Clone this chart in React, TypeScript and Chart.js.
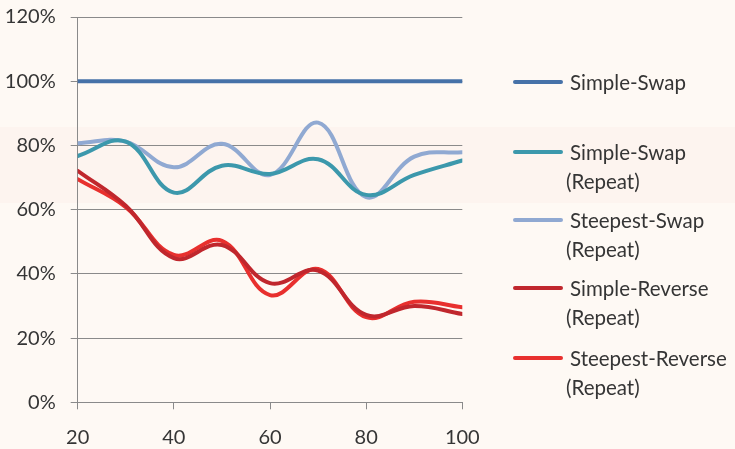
import React, { useEffect, useRef } from "react";
import { Chart, registerables } from "chart.js";

Chart.register(...registerables);

// ---- data ----
const xValues = [20, 30, 40, 50, 60, 70, 80, 90, 100];
const simpleSwap = [100, 100, 100, 100, 100, 100, 100, 100, 100];
const simpleSwapRepeat = [76.7, 81.2, 65.3, 73.7, 71.1, 75.7, 64.6, 70.8, 75.3];
const steepestSwapRepeat = [80.7, 81.2, 73.2, 80.5, 70.8, 87.1, 63.9, 76.5, 77.9];
const simpleReverseRepeat = [72.1, 61.2, 44.9, 49.0, 37.1, 41.0, 27.2, 30.0, 27.5];
const steepestReverseRepeat = [69.5, 60.8, 45.9, 50.3, 33.4, 41.5, 26.5, 31.3, 29.6];

const seriesLabels = [
  ["Simple-Swap"],
  ["Simple-Swap", "(Repeat)"],
  ["Steepest-Swap", "(Repeat)"],
  ["Simple-Reverse", "(Repeat)"],
  ["Steepest-Reverse", "(Repeat)"],
];
const seriesValues = [simpleSwap, simpleSwapRepeat, steepestSwapRepeat, simpleReverseRepeat, steepestReverseRepeat];
const seriesColors = ["#4672A8", "#3C98AC", "#90A9D2", "#C0272D", "#E8302E"];
const xTicks = [20, 40, 60, 80, 100];
const yTicks = [0, 20, 40, 60, 80, 100, 120];

// legend row centres (px from top)
const legendRowCenters = [82, 152, 220, 288, 358];

const FONT = "Lato, 'Open Sans', sans-serif";
const TEXT = "#353535";

export default function App() {
  const ref = useRef<HTMLCanvasElement | null>(null);

  useEffect(() => {
    document.body.style.margin = "0";
    const ctx = ref.current!;
    const chart = new Chart(ctx, {
      type: "line",
      data: {
        datasets: seriesValues.map((vals, i) => ({
          label: seriesLabels[i].join(" "),
          data: vals.map((v, j) => ({ x: xValues[j], y: v })),
          borderColor: seriesColors[i],
          backgroundColor: seriesColors[i],
          borderWidth: 4,
          pointRadius: 0,
          tension: 0.4,
          fill: false,
          borderCapStyle: "round",
        })),
      },
      options: {
        responsive: false,
        animation: false,
        events: [],
        layout: { padding: { left: 0, top: 17, right: 272.7, bottom: 0 } },
        plugins: { legend: { display: false }, tooltip: { enabled: false } },
        scales: {
          x: {
            type: "linear",
            min: 20,
            max: 100,
            afterFit: (s: any) => {
              s.height = 46.7;
              s.paddingLeft = 0;
              s.paddingRight = 0;
            },
            afterBuildTicks: (s: any) => {
              s.ticks = xTicks.map((v) => ({ value: v }));
            },
            border: { display: false },
            grid: {
              drawOnChartArea: false,
              drawTicks: true,
              tickLength: 7,
              color: "#8a8a8a",
              lineWidth: 1,
            },
            ticks: {
              padding: 16,
              color: TEXT,
              font: { family: FONT, size: 20 },
              maxRotation: 0,
            },
          },
          y: {
            min: 0,
            max: 120,
            afterFit: (s: any) => {
              s.width = 77.7;
              s.paddingTop = 0;
              s.paddingBottom = 0;
            },
            afterBuildTicks: (s: any) => {
              s.ticks = yTicks.map((v) => ({ value: v }));
            },
            border: { display: true, color: "#8a8a8a", width: 1 },
            grid: {
              color: "#8a8a8a",
              lineWidth: 1,
              tickLength: 7,
            },
            ticks: {
              padding: 15,
              color: TEXT,
              font: { family: FONT, size: 20 },
              callback: (v: any) => v + "%",
            },
          },
        },
      },
    });
    return () => chart.destroy();
  }, []);

  return (
    <div
      style={{
        position: "absolute",
        left: 0,
        top: 0,
        width: 735,
        height: 449,
        background: "#FEF9F4",
        overflow: "hidden",
        fontFamily: FONT,
      }}
    >
      <div
        style={{
          position: "absolute",
          left: 0,
          top: 127,
          width: 735,
          height: 76,
          background: "#FDF4EF",
        }}
      />
      <canvas ref={ref} width={735} height={449} style={{ position: "absolute", left: 0, top: 0 }} />
      {seriesLabels.map((lines, i) => (
        <div key={i}>
          <div
            style={{
              position: "absolute",
              left: 513,
              top: legendRowCenters[i] - 2,
              width: 50,
              height: 4,
              borderRadius: 2,
              background: seriesColors[i],
            }}
          />
          {lines.map((t, k) => (
            <div
              key={k}
              style={{
                position: "absolute",
                left: k === 0 ? 570 : 566,
                top: legendRowCenters[i] - 14 + k * 28.5,
                height: 28,
                lineHeight: "28px",
                fontSize: 20.5,
                color: TEXT,
                whiteSpace: "nowrap",
              }}
            >
              {t}
            </div>
          ))}
        </div>
      ))}
    </div>
  );
}
